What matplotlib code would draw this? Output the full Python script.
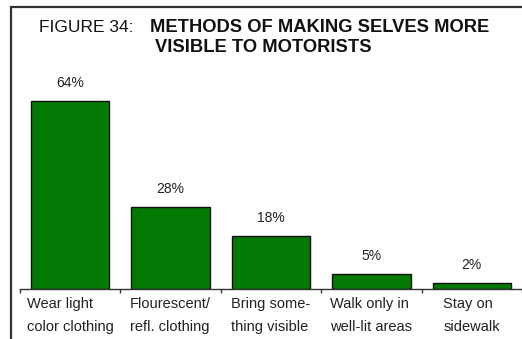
import matplotlib.pyplot as plt
from matplotlib.patches import Rectangle

# data
categories = ['Wear light\ncolor clothing', 'Flourescent/\nrefl. clothing',
              'Bring some-\nthing visible', 'Walk only in\nwell-lit areas',
              'Stay on\nsidewalk']
percents = [64, 28, 18, 5, 2]

W, H = 522, 339
plt.rcParams['font.family'] = ['Liberation Sans', 'DejaVu Sans']

fig = plt.figure(figsize=(W / 100, H / 100), dpi=100)

# outer frame (left and top edges visible, rest cropped)
fig.patches.append(Rectangle((11 / W, -0.1), 1.2, 1 - 7 / H + 0.1,
                             transform=fig.transFigure, fill=False,
                             edgecolor='#333333', linewidth=1.6))

# title
fig.text(39 / W, 1 - 27 / H, 'FIGURE 34:', fontsize=12.5, va='center', color='#111111')
fig.text(150 / W, 1 - 27 / H, 'METHODS OF MAKING SELVES MORE', fontsize=13.2,
         fontweight='bold', va='center', color='#111111')
fig.text(263 / W, 1 - 48 / H, 'VISIBLE TO MOTORISTS', fontsize=13.2,
         fontweight='bold', va='center', ha='center', color='#111111')

# axes: baseline at y=289 px, 2.93 px per percent
ax_left, ax_right = 20 / W, 522 / W
ax_bottom = 1 - 289 / H
ax_top = 1 - 80 / H
ax = fig.add_axes([ax_left, ax_bottom, ax_right - ax_left, ax_top - ax_bottom])
ax.set_xlim(-0.5, len(categories) - 0.5)
ax.set_ylim(0, 209 / 2.93)

x = list(range(len(categories)))
ax.bar(x, percents, width=0.78, color='#037a03', edgecolor='#111111', linewidth=1.0)

for xi, p in zip(x, percents):
    ax.text(xi, p + 6.3, f'{p}%', ha='center', va='center', fontsize=10, color='#222222')

for s in ['top', 'right', 'left']:
    ax.spines[s].set_visible(False)
ax.spines['bottom'].set_color('#333333')
ax.spines['bottom'].set_linewidth(1.0)
ax.set_yticks([])
ax.set_xticks([i - 0.5 for i in range(len(categories) + 1)])
ax.set_xticklabels([])
ax.tick_params(axis='x', direction='out', length=3, width=1, color='#333333')

for xi, lab in zip(x, categories):
    ax.text(xi, -2.6, lab, ha='center', va='top', multialignment='left',
            fontsize=10.5, color='#222222', linespacing=1.85)

fig.savefig('out.png', dpi=100)
